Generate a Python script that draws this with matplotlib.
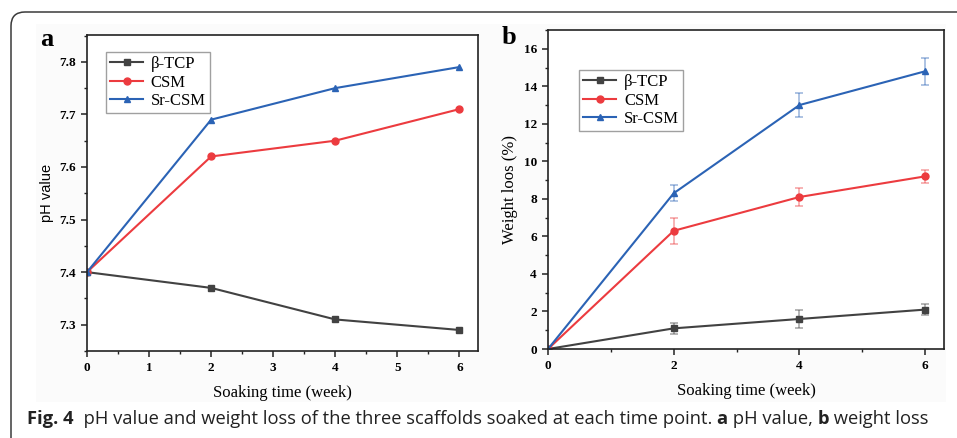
import matplotlib
matplotlib.use("Agg")
import matplotlib.pyplot as plt
from matplotlib.patches import FancyBboxPatch, Rectangle
from matplotlib.transforms import IdentityTransform
from matplotlib.ticker import MultipleLocator

# soaking time, weeks
weeks = [0, 2, 4, 6]
series_names = ["β-TCP", "CSM", "Sr-CSM"]

# panel a: pH value
ph_tcp = [7.40, 7.37, 7.31, 7.29]
ph_csm = [7.40, 7.62, 7.65, 7.71]
ph_srcsm = [7.40, 7.69, 7.75, 7.79]

# panel b: weight loss (%) with error bars
wl_tcp = [0, 1.1, 1.6, 2.1]
wl_csm = [0, 6.3, 8.1, 9.2]
wl_srcsm = [0, 8.3, 13.0, 14.8]
err_tcp = [0, 0.31, 0.50, 0.28]
err_csm = [0, 0.70, 0.50, 0.35]
err_srcsm = [0, 0.42, 0.63, 0.72]

colors = ["#424242", "#ec3b3f", "#2b63b5"]
markers = ["s", "o", "^"]

serif = "Liberation Serif"

fig = plt.figure(figsize=(9.57, 4.38), dpi=100)
fig.patch.set_facecolor("white")

# light backdrop behind the panels and the rounded outer frame
fig.add_artist(Rectangle((36 / 957, 36 / 438), 910 / 957, 378 / 438,
                         transform=fig.transFigure, facecolor="#fbfbfb",
                         edgecolor="none", zorder=0))
fig.add_artist(FancyBboxPatch((11, -30), 1100, 456,
                              boxstyle="round,pad=0,rounding_size=14",
                              transform=IdentityTransform(), facecolor="none",
                              edgecolor="#3a3a3a", linewidth=1.1, zorder=1))

ax1 = fig.add_axes([87 / 957, 87 / 438, 391 / 957, 316 / 438])
ax2 = fig.add_axes([548 / 957, 89 / 438, 396 / 957, 319 / 438])


def style_axis(ax):
    for sp in ax.spines.values():
        sp.set_linewidth(1.2)
        sp.set_color("#222222")
    ax.tick_params(which="both", direction="out", top=False, right=False, color="#222222")
    ax.tick_params(which="major", length=4, width=1.1, pad=4)
    ax.tick_params(which="minor", length=2.5, width=1.0)
    for lab in ax.get_xticklabels() + ax.get_yticklabels():
        lab.set_fontfamily(serif)
        lab.set_fontweight("bold")
        lab.set_fontsize(9.5)
    ax.set_facecolor("white")


def add_legend(ax, anchor):
    leg = ax.legend(loc="upper left", bbox_to_anchor=anchor, borderaxespad=0,
                    fancybox=False, edgecolor="#888888", handlelength=2.0,
                    labelspacing=0.15, borderpad=0.25, handletextpad=0.45,
                    prop={"family": serif, "size": 12})
    leg.get_frame().set_linewidth(1.0)


# ---- panel a ----
for vals, name, c, m in zip([ph_tcp, ph_csm, ph_srcsm], series_names, colors, markers):
    ax1.plot(weeks, vals, color=c, marker=m, markersize=5, linewidth=1.5, label=name)
ax1.set_xlim(0, 6.3)
ax1.set_ylim(7.25, 7.851)
ax1.xaxis.set_major_locator(MultipleLocator(1))
ax1.xaxis.set_minor_locator(MultipleLocator(0.5))
ax1.yaxis.set_major_locator(MultipleLocator(0.1))
ax1.yaxis.set_minor_locator(MultipleLocator(0.05))
style_axis(ax1)
ax1.set_xlabel("Soaking time (week)", fontfamily=serif, fontsize=12, labelpad=8)
ax1.set_ylabel("pH value", fontfamily="Liberation Sans", fontsize=10.5, labelpad=4)
add_legend(ax1, (0.048, 0.946))
fig.text(47 / 957, 1 - 40 / 438, "a", fontfamily=serif, fontweight="bold",
         fontsize=19, ha="center", va="center")

# ---- panel b ----
for vals, errs, name, c, m in zip([wl_tcp, wl_csm, wl_srcsm], [err_tcp, err_csm, err_srcsm],
                                  series_names, colors, markers):
    ax2.errorbar(weeks, vals, yerr=errs, fmt="none", ecolor=c, alpha=0.45,
                 elinewidth=1.2, capsize=3, capthick=1.2)
    ax2.plot(weeks, vals, color=c, marker=m, markersize=5, linewidth=1.5, label=name)
ax2.set_xlim(0, 6.3)
ax2.set_ylim(0, 17)
ax2.xaxis.set_major_locator(MultipleLocator(2))
ax2.xaxis.set_minor_locator(MultipleLocator(1))
ax2.yaxis.set_major_locator(MultipleLocator(2))
ax2.yaxis.set_minor_locator(MultipleLocator(1))
style_axis(ax2)
ax2.set_xlabel("Soaking time (week)", fontfamily=serif, fontsize=12, labelpad=8)
ax2.set_ylabel("Weight loos (%)", fontfamily=serif, fontsize=12, labelpad=4)
add_legend(ax2, (0.078, 0.875))
fig.text(509 / 957, 1 - 38 / 438, "b", fontfamily=serif, fontweight="bold",
         fontsize=19, ha="center", va="center")

# ---- caption, mixed bold / regular pieces placed one after another ----
caption = [("Fig. 4", "bold"), ("  pH value and weight loss of the three scaffolds soaked at each time point. ", "normal"),
           ("a", "bold"), (" pH value, ", "normal"), ("b", "bold"), (" weight loss", "normal")]
renderer = fig.canvas.get_renderer()
x = 27
for txt, w in caption:
    t = fig.text(x / 957, 1 - 419 / 438, txt, fontfamily="Open Sans", fontweight=w,
                 fontsize=13.2, va="center", ha="left", color="#222222")
    x += t.get_window_extent(renderer).width

fig.savefig("out.png", dpi=100)
